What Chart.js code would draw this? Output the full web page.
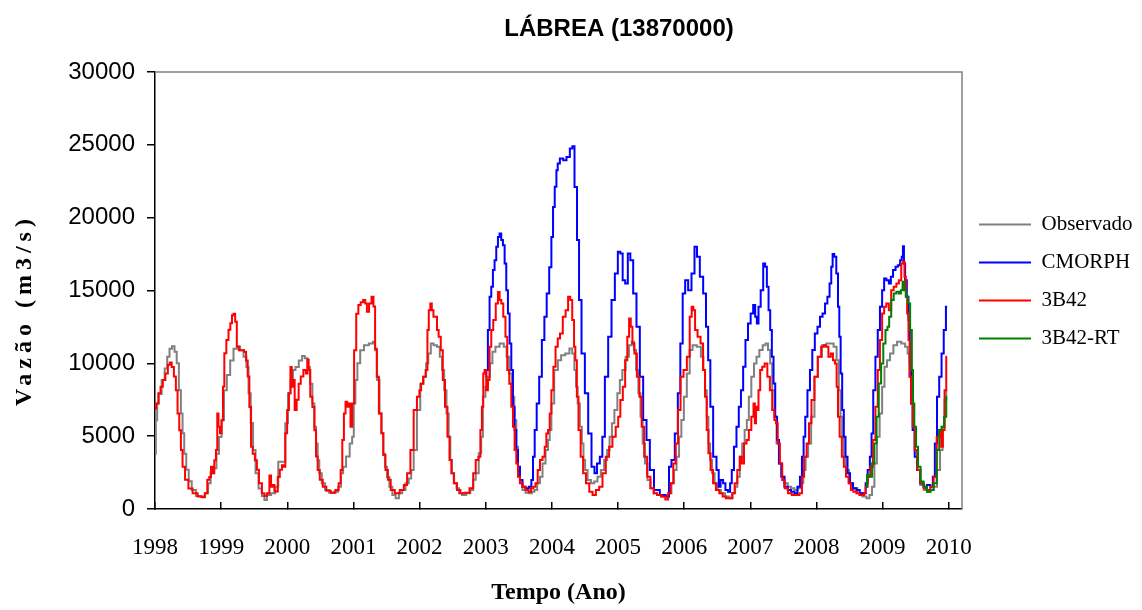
<!DOCTYPE html>
<html>
<head>
<meta charset="utf-8">
<script src="https://cdn.jsdelivr.net/npm/chart.js@4/dist/chart.umd.min.js"></script>
<style>
  html, body { margin: 0; padding: 0; background: #fff; }
  #wrap { width: 1142px; height: 610px; }
</style>
</head>
<body>
<div id="wrap"><canvas id="grafico" width="1142" height="610"></canvas></div>
<script>
// Vazão diária (m3/s) em Lábrea, estação 13870000 — pares [ano decimal, vazão]
const observado = [
  [1998.000,3800],[1998.025,6100],[1998.040,7250],[1998.076,7900],[1998.126,8850],[1998.167,9650],[1998.202,10450],[1998.237,11000],[1998.278,11180],[1998.313,10800],[1998.343,10000],[1998.379,8150],[1998.404,6550],[1998.429,5200],[1998.455,3800],[1998.490,2700],[1998.530,1900],[1998.581,1300],[1998.657,900],[1998.732,850],[1998.783,1075],[1998.823,1760],[1998.859,2450],[1998.909,2800],[1998.949,3800],[1998.985,4950],
  [1999.025,6100],[1999.061,8150],[1999.111,9200],[1999.162,10200],[1999.212,11000],[1999.263,11150],[1999.313,10900],[1999.364,10450],[1999.399,9750],[1999.429,7950],[1999.465,5900],[1999.500,4050],[1999.540,2450],[1999.591,1400],[1999.641,900],[1999.667,620],[1999.717,960],[1999.793,1075],[1999.843,1530],[1999.884,3250],[1999.944,3250],[1999.995,5880],
  [2000.025,7950],[2000.074,8850],[2000.099,9550],[2000.149,9750],[2000.199,10200],[2000.248,10500],[2000.283,10350],[2000.323,9750],[2000.362,8600],[2000.397,7250],[2000.422,5650],[2000.447,4500],[2000.471,3350],[2000.496,2450],[2000.546,1760],[2000.596,1300],[2000.670,1120],[2000.744,1190],[2000.794,1530],[2000.829,2450],[2000.859,2900],[2000.918,3600],[2000.968,4500],[2000.993,4960],
  [2001.017,7250],[2001.042,8850],[2001.077,10000],[2001.127,10900],[2001.191,11250],[2001.275,11370],[2001.315,11480],[2001.340,10900],[2001.375,8850],[2001.414,6550],[2001.439,5200],[2001.464,3800],[2001.489,2900],[2001.524,2200],[2001.563,1530],[2001.613,960],[2001.663,730],[2001.712,1075],[2001.762,1300],[2001.811,1760],[2001.861,2100],[2001.886,2680],[2001.935,4050],[2001.985,6800],
  [2002.035,8600],[2002.086,9080],[2002.111,10000],[2002.152,10680],[2002.187,11370],[2002.237,11250],[2002.288,11140],[2002.323,10450],[2002.354,9540],[2002.389,8160],[2002.424,6560],[2002.455,4960],[2002.475,3360],[2002.505,2450],[2002.540,1760],[2002.576,1420],[2002.616,1075],[2002.667,960],[2002.742,1075],[2002.793,1300],[2002.828,2000],[2002.869,2450],[2002.919,3820],[2002.944,4960],[2002.970,7700],
  [2003.020,8400],[2003.045,9080],[2003.081,10000],[2003.121,10800],[2003.172,11140],[2003.247,11370],[2003.298,11140],[2003.333,10450],[2003.374,9300],[2003.414,7700],[2003.449,6100],[2003.475,4280],[2003.500,2680],[2003.535,1760],[2003.576,1300],[2003.626,1120],[2003.677,1075],[2003.717,1190],[2003.753,1300],[2003.803,1760],[2003.838,2220],[2003.879,3130],[2003.929,4050],[2003.955,4730],[2003.980,5420],
  [2004.005,7250],[2004.065,9540],[2004.115,10220],[2004.165,10560],[2004.240,10680],[2004.290,11020],[2004.325,10680],[2004.355,9540],[2004.375,8390],[2004.405,7250],[2004.440,5650],[2004.465,4500],[2004.490,3360],[2004.515,2680],[2004.565,1990],[2004.615,1760],[2004.665,1880],[2004.715,2220],[2004.765,2680],[2004.815,3360],[2004.855,4050],[2004.890,4960],[2004.925,5880],[2004.965,6790],
  [2005.015,7940],[2005.040,8850],[2005.090,9540],[2005.140,10450],[2005.190,11250],[2005.225,11480],[2005.255,10910],[2005.290,9540],[2005.325,7940],[2005.355,6340],[2005.390,4500],[2005.425,3130],[2005.465,1990],[2005.515,1420],[2005.565,1075],[2005.615,960],[2005.690,850],[2005.740,850],[2005.790,1075],[2005.825,1760],[2005.865,2680],[2005.905,3590],[2005.940,4960],[2005.975,6110],
  [2006.015,7700],[2006.065,9310],[2006.101,10910],[2006.152,11250],[2006.227,11140],[2006.278,10450],[2006.303,9540],[2006.328,8160],[2006.354,6340],[2006.379,4500],[2006.404,3360],[2006.439,2450],[2006.480,1760],[2006.530,1300],[2006.581,1075],[2006.657,850],[2006.707,730],[2006.758,1075],[2006.783,1530],[2006.823,2220],[2006.859,3590],[2006.894,4500],[2006.934,5420],[2006.960,6110],[2006.995,7710],
  [2007.035,9080],[2007.076,9990],[2007.111,10450],[2007.162,10910],[2007.212,11250],[2007.247,11370],[2007.288,10910],[2007.313,9990],[2007.348,8160],[2007.379,6340],[2007.414,4500],[2007.449,3130],[2007.490,2220],[2007.540,1760],[2007.591,1530],[2007.641,1420],[2007.692,1300],[2007.742,1420],[2007.783,1760],[2007.818,2680],[2007.854,3590],[2007.894,4500],[2007.944,6340],[2007.995,9080],
  [2008.045,10450],[2008.122,11250],[2008.173,11370],[2008.234,11370],[2008.284,11140],[2008.325,10220],[2008.350,8160],[2008.376,6340],[2008.401,4960],[2008.426,3590],[2008.467,2680],[2008.518,1760],[2008.579,1420],[2008.655,1075],[2008.731,850],[2008.782,730],[2008.822,960],[2008.858,1530],[2008.893,3130],[2008.934,4960],[2008.975,6560],
  [2009.010,8390],[2009.046,9770],[2009.086,10220],[2009.137,10680],[2009.188,11250],[2009.249,11480],[2009.315,11370],[2009.365,11140],[2009.391,10680],[2009.416,9080],[2009.442,7250],[2009.472,5420],[2009.503,4050],[2009.543,2680],[2009.594,1650],[2009.655,1300],[2009.706,1190],[2009.746,1300],[2009.797,1530],[2009.848,2680],[2009.888,4050],[2009.924,5650],[2009.949,7480],[2009.975,8160]
];

const cmorph = [
  [2002.995,9080],[2003.020,9540],[2003.045,12280],[2003.071,14570],[2003.096,15250],[2003.121,16400],[2003.146,17080],[2003.172,18000],[2003.197,18680],[2003.222,18910],[2003.247,18460],[2003.273,18110],[2003.298,16860],[2003.323,15020],[2003.348,13420],[2003.374,11370],[2003.399,9540],[2003.424,7020],[2003.449,5420],[2003.475,4050],[2003.500,2900],[2003.535,1990],[2003.576,1530],[2003.626,1420],[2003.677,1530],[2003.702,1990],[2003.727,3590],[2003.753,5420],[2003.788,7250],[2003.828,9080],[2003.869,11600],[2003.904,13200],[2003.939,14800],[2003.980,16600],
  [2004.005,18680],[2004.030,20740],[2004.056,22120],[2004.081,23260],[2004.095,23720],[2004.146,24060],[2004.196,23950],[2004.246,24170],[2004.297,24750],[2004.322,24900],[2004.362,22100],[2004.398,18460],[2004.423,14340],[2004.473,10680],[2004.524,7940],[2004.574,5190],[2004.624,2900],[2004.665,2450],[2004.700,3130],[2004.750,3590],[2004.776,4960],[2004.826,9080],[2004.876,11820],[2004.927,14340],[2004.977,16170],
  [2005.017,17660],[2005.052,17540],[2005.088,15710],[2005.128,15480],[2005.168,17540],[2005.204,17080],[2005.254,14800],[2005.304,12510],[2005.355,9080],[2005.405,6110],[2005.456,4730],[2005.506,2680],[2005.581,1300],[2005.682,960],[2005.758,850],[2005.783,2900],[2005.833,3360],[2005.884,5190],[2005.924,7940],[2005.960,11370],[2005.995,14800],
  [2006.035,15710],[2006.085,15020],[2006.136,16170],[2006.176,18000],[2006.211,17310],[2006.262,15940],[2006.312,14800],[2006.347,12510],[2006.378,10220],[2006.413,7020],[2006.463,3590],[2006.514,2680],[2006.530,1530],[2006.571,1990],[2006.606,1760],[2006.641,1300],[2006.682,1190],[2006.707,1760],[2006.732,2680],[2006.773,4280],[2006.808,5650],[2006.843,7020],[2006.874,8160],[2006.909,9770],[2006.944,11600],[2006.985,12740],
  [2007.025,13420],[2007.061,14000],[2007.086,13200],[2007.111,12740],[2007.136,13880],[2007.177,15020],[2007.212,16860],[2007.237,16630],[2007.263,15250],[2007.288,13650],[2007.313,12280],[2007.338,10450],[2007.364,8620],[2007.389,6340],[2007.419,4730],[2007.449,3130],[2007.490,2220],[2007.540,1530],[2007.591,1300],[2007.641,1190],[2007.692,1075],[2007.732,1530],[2007.768,2220],[2007.793,3590],[2007.818,4960],[2007.843,6340],[2007.884,8160],[2007.919,9540],[2007.955,10910],[2007.995,12050],
  [2008.035,12510],[2008.071,13200],[2008.112,13420],[2008.147,14110],[2008.183,14570],[2008.213,15480],[2008.234,16630],[2008.254,17500],[2008.284,17310],[2008.315,16170],[2008.335,13880],[2008.355,11820],[2008.376,9310],[2008.401,6790],[2008.426,4960],[2008.452,3590],[2008.487,2450],[2008.528,1760],[2008.579,1420],[2008.629,1300],[2008.680,1075],[2008.731,1075],[2008.756,1760],[2008.792,2680],[2008.822,3590],[2008.843,5190],[2008.873,8160],[2008.909,10450],[2008.944,12280],[2008.975,13880],
  [2009.010,15020],[2009.036,15830],[2009.076,15710],[2009.112,15480],[2009.137,15940],[2009.178,16400],[2009.213,16630],[2009.249,16740],[2009.279,17080],[2009.299,17310],[2009.315,18040],[2009.330,16860],[2009.350,15710],[2009.381,14570],[2009.401,12970],[2009.421,9990],[2009.442,7250],[2009.467,5420],[2009.503,3590],[2009.543,2680],[2009.594,1760],[2009.645,1530],[2009.695,1650],[2009.746,1530],[2009.772,2220],[2009.807,4500],[2009.838,7710],[2009.873,9080],[2009.909,10680],[2009.939,12280],[2009.975,13880]
];

const trmm3b42 = [
  [1998.000,6900],[1998.035,7250],[1998.066,7950],[1998.101,8400],[1998.136,8850],[1998.177,9300],[1998.212,9900],[1998.237,10050],[1998.268,9750],[1998.303,9100],[1998.328,8150],[1998.354,6550],[1998.379,5400],[1998.404,4050],[1998.429,2900],[1998.480,2000],[1998.530,1400],[1998.606,1075],[1998.682,850],[1998.732,800],[1998.773,1075],[1998.808,2000],[1998.833,2200],[1998.859,2900],[1998.884,2450],[1998.909,3350],[1998.934,4050],[1998.949,6550],[1998.970,5650],[1998.995,5200],
  [1999.020,6100],[1999.035,8400],[1999.061,10700],[1999.096,11600],[1999.126,12300],[1999.152,12750],[1999.177,13300],[1999.197,13400],[1999.227,12850],[1999.247,11150],[1999.288,10900],[1999.328,10900],[1999.364,10800],[1999.389,10200],[1999.414,9100],[1999.439,7000],[1999.465,4280],[1999.490,3800],[1999.530,3350],[1999.551,2700],[1999.591,1760],[1999.641,1075],[1999.667,900],[1999.717,1075],[1999.742,2300],[1999.768,1530],[1999.793,1650],[1999.818,1200],[1999.843,1200],[1999.869,2200],[1999.904,2700],[1999.934,3000],[1999.960,2900],[1999.980,5200],
  [2000.015,6800],[2000.035,7950],[2000.060,9750],[2000.074,8400],[2000.099,8850],[2000.124,6800],[2000.159,7500],[2000.184,8600],[2000.223,9100],[2000.263,9550],[2000.298,9300],[2000.313,10270],[2000.333,9550],[2000.362,7700],[2000.397,7000],[2000.422,5400],[2000.447,3600],[2000.471,2680],[2000.511,2000],[2000.561,1530],[2000.620,1260],[2000.695,1120],[2000.759,1300],[2000.794,1760],[2000.819,2680],[2000.844,4730],[2000.868,6550],[2000.893,7360],[2000.918,7020],[2000.943,7250],[2000.968,5650],[2000.993,7250],
  [2001.027,10900],[2001.057,13400],[2001.092,14000],[2001.127,14200],[2001.166,14340],[2001.191,14100],[2001.216,13540],[2001.256,14100],[2001.290,14570],[2001.315,13900],[2001.340,11000],[2001.365,9080],[2001.404,6550],[2001.439,5200],[2001.464,3700],[2001.504,2680],[2001.538,2000],[2001.588,1300],[2001.663,1075],[2001.737,1300],[2001.787,1650],[2001.836,2450],[2001.886,4050],[2001.935,6800],[2001.985,7700],
  [2002.010,8160],[2002.035,8600],[2002.071,9080],[2002.111,9540],[2002.126,12280],[2002.152,13650],[2002.172,14100],[2002.197,13650],[2002.222,13200],[2002.253,13200],[2002.273,12280],[2002.303,11820],[2002.338,10900],[2002.364,8850],[2002.404,7020],[2002.439,4960],[2002.465,3360],[2002.495,2450],[2002.540,1760],[2002.591,1300],[2002.641,1075],[2002.717,1120],[2002.793,1420],[2002.828,2450],[2002.869,3360],[2002.909,3590],[2002.929,5420],[2002.955,7020],[2002.970,9300],[2002.995,9540],
  [2003.020,8160],[2003.045,8850],[2003.071,11140],[2003.096,12280],[2003.131,12970],[2003.172,14100],[2003.197,14900],[2003.222,14340],[2003.247,14100],[2003.283,13200],[2003.313,11820],[2003.338,9540],[2003.374,8600],[2003.399,7020],[2003.424,5650],[2003.449,4050],[2003.475,3130],[2003.500,2220],[2003.535,1760],[2003.576,1530],[2003.626,1300],[2003.667,1190],[2003.702,1420],[2003.737,1530],[2003.768,1760],[2003.803,2680],[2003.838,3360],[2003.879,3590],[2003.904,4280],[2003.929,5190],[2003.955,5420],[2003.980,6560],
  [2004.005,8160],[2004.040,9770],[2004.071,11140],[2004.106,11700],[2004.140,12050],[2004.190,13200],[2004.225,13650],[2004.265,14570],[2004.290,14340],[2004.325,12970],[2004.345,11140],[2004.365,10220],[2004.390,7700],[2004.415,5420],[2004.455,3590],[2004.490,2450],[2004.540,1760],[2004.590,1190],[2004.640,960],[2004.690,1300],[2004.740,1530],[2004.790,2450],[2004.840,3590],[2004.890,4280],[2004.940,4960],[2004.990,5650],
  [2005.015,6340],[2005.055,7480],[2005.090,8390],[2005.125,10220],[2005.155,11820],[2005.180,13080],[2005.205,12510],[2005.230,11370],[2005.265,10680],[2005.305,9080],[2005.340,7700],[2005.375,5650],[2005.415,3590],[2005.465,2220],[2005.515,1420],[2005.565,1075],[2005.615,960],[2005.690,850],[2005.740,660],[2005.775,1075],[2005.815,1760],[2005.855,3130],[2005.890,4500],[2005.925,6790],[2005.965,9080],
  [2006.015,9540],[2006.066,10450],[2006.101,13200],[2006.126,13880],[2006.152,13650],[2006.177,12280],[2006.227,11820],[2006.268,11370],[2006.303,9540],[2006.328,7710],[2006.354,5420],[2006.379,3820],[2006.419,2680],[2006.455,1760],[2006.505,1300],[2006.556,1075],[2006.606,850],[2006.657,730],[2006.707,730],[2006.743,1075],[2006.783,1760],[2006.823,2680],[2006.859,3590],[2006.884,3130],[2006.924,4500],[2006.960,4730],[2006.995,5420],
  [2007.035,6340],[2007.061,7250],[2007.076,5880],[2007.096,7020],[2007.111,6790],[2007.136,8160],[2007.162,9540],[2007.197,9770],[2007.237,9990],[2007.278,9080],[2007.313,8160],[2007.348,6790],[2007.379,6110],[2007.399,5880],[2007.429,4500],[2007.465,3130],[2007.500,1990],[2007.540,1420],[2007.601,1075],[2007.652,960],[2007.717,960],[2007.768,1075],[2007.793,2220],[2007.833,3590],[2007.869,4500],[2007.904,5880],[2007.944,7480],[2007.995,9080],
  [2008.045,10450],[2008.096,11140],[2008.122,11250],[2008.162,11140],[2008.198,10450],[2008.234,10680],[2008.264,10220],[2008.294,9990],[2008.315,8390],[2008.335,6340],[2008.366,4960],[2008.401,3590],[2008.426,2900],[2008.467,2220],[2008.503,1760],[2008.538,1300],[2008.579,1190],[2008.629,1075],[2008.670,960],[2008.706,960],[2008.731,1075],[2008.756,1530],[2008.792,2220],[2008.832,2900],[2008.873,4730],[2008.909,7020],[2008.944,9540],[2008.975,11600],
  [2009.010,13420],[2009.036,13880],[2009.076,14110],[2009.112,13650],[2009.147,15020],[2009.188,15250],[2009.228,15480],[2009.264,15710],[2009.299,16860],[2009.320,16970],[2009.340,15940],[2009.360,14570],[2009.381,13420],[2009.401,11600],[2009.421,9080],[2009.442,7250],[2009.467,5650],[2009.503,4050],[2009.543,2680],[2009.594,1760],[2009.645,1420],[2009.695,1300],[2009.746,1530],[2009.797,2220],[2009.838,4960],[2009.873,5420],[2009.898,4280],[2009.924,5420],[2009.949,8160],[2009.975,10450]
];

const trmm3b42rt = [
  [2008.746,1530],[2008.782,2330],[2008.822,2220],[2008.858,3130],[2008.893,4500],[2008.924,6340],[2008.959,8620],[2008.995,9990],
  [2009.025,11370],[2009.061,12280],[2009.086,12510],[2009.112,13200],[2009.147,14340],[2009.188,14800],[2009.228,14910],[2009.264,14800],[2009.289,15020],[2009.315,15600],[2009.340,15020],[2009.365,14570],[2009.401,14110],[2009.431,12280],[2009.452,9540],[2009.467,7250],[2009.492,5650],[2009.518,4280],[2009.553,2900],[2009.594,1880],[2009.645,1530],[2009.695,1190],[2009.746,1300],[2009.797,1760],[2009.838,4050],[2009.873,5420],[2009.909,5650],[2009.949,6340],[2009.975,7710]
];

const nomesSeries = ['Observado', 'CMORPH', '3B42', '3B42-RT'];
const anoInicial = 1998, anoFinal = 2010;
const vazaoMax = 30000, vazaoPasso = 5000;
const tituloEixoY = 'Vazão (m3/s)';

const SERIF = '"Liberation Serif", "Times New Roman", Times, serif';
const SANS = '"Liberation Sans", Arial, Helvetica, sans-serif';

const pontos = (serie) => serie.map(([x, y]) => ({ x, y }));

// gray frame on the top and right edges of the plot area
const molduraGrafico = {
  id: 'molduraGrafico',
  beforeDatasetsDraw(chart) {
    const { ctx, chartArea: a } = chart;
    ctx.save();
    ctx.strokeStyle = '#808080';
    ctx.lineWidth = 1.5;
    ctx.beginPath();
    ctx.moveTo(a.left, a.top);
    ctx.lineTo(a.right, a.top);
    ctx.lineTo(a.right, a.bottom);
    ctx.stroke();
    ctx.restore();
  }
};

// shift the title to the right and lift the legend slightly
const ajusteCaixas = {
  id: 'ajusteCaixas',
  afterLayout(chart) {
    const t = chart.titleBlock;
    if (t) { t.left += 48; t.right += 48; }
    const lg = chart.legend;
    if (lg) { lg.top -= 9; lg.bottom -= 9; }
  }
};

// rotated, letter-spaced title of the flow axis
const tituloVertical = {
  id: 'tituloVertical',
  afterDraw(chart) {
    const { ctx, chartArea: a } = chart;
    ctx.save();
    ctx.translate(25, (a.top + a.bottom) / 2 + 22);
    ctx.rotate(-Math.PI / 2);
    ctx.font = 'bold 24px ' + SERIF;
    ctx.fillStyle = '#000';
    ctx.textAlign = 'center';
    ctx.textBaseline = 'middle';
    if ('letterSpacing' in ctx) ctx.letterSpacing = '5px';
    ctx.fillText(tituloEixoY, 2.5, 0);
    ctx.restore();
  }
};

const estiloLinha = (cor, ordem) => ({
  borderColor: cor,
  backgroundColor: cor,
  borderWidth: 2,
  pointRadius: 0,
  pointHoverRadius: 0,
  stepped: 'middle',
  fill: false,
  order: ordem
});

new Chart(document.getElementById('grafico'), {
  type: 'line',
  data: {
    datasets: [
      { label: nomesSeries[0], data: pontos(observado), ...estiloLinha('#808080', 4) },
      { label: nomesSeries[1], data: pontos(cmorph), ...estiloLinha('#0000FF', 3) },
      { label: nomesSeries[2], data: pontos(trmm3b42), ...estiloLinha('#FF0000', 2) },
      { label: nomesSeries[3], data: pontos(trmm3b42rt), ...estiloLinha('#008000', 1) }
    ]
  },
  options: {
    responsive: false,
    animation: false,
    devicePixelRatio: 1,
    layout: { padding: 0 },
    plugins: {
      tooltip: { enabled: false },
      title: {
        display: true,
        text: 'LÁBREA (13870000)',
        color: '#000',
        font: { family: SANS, size: 24, weight: 'bold' },
        padding: { top: 14.6, bottom: 28.6 }
      },
      legend: {
        position: 'right',
        align: 'center',
        fullSize: false,
        maxWidth: 180,
        labels: {
          usePointStyle: true,
          pointStyle: 'line',
          pointStyleWidth: 52,
          padding: 17,
          color: '#000',
          font: { family: SERIF, size: 21 },
          sort: (a, b) => a.datasetIndex - b.datasetIndex
        }
      }
    },
    scales: {
      x: {
        type: 'linear',
        position: 'bottom',
        min: anoInicial,
        max: anoFinal + 0.2,
        afterFit: (s) => { s.height = 101; },
        ticks: {
          stepSize: 1,
          includeBounds: false,
          autoSkip: false,
          maxRotation: 0,
          padding: 32,
          color: '#000',
          font: { family: SERIF, size: 23 },
          callback: (v) => String(Math.round(v))
        },
        grid: { drawOnChartArea: false, drawTicks: true, tickLength: -7, color: '#000', lineWidth: 1.5 },
        border: { color: '#000', width: 1.5 },
        title: {
          display: true,
          text: 'Tempo (Ano)',
          color: '#000',
          font: { family: SERIF, size: 24, weight: 'bold' },
          padding: { top: 0, bottom: 2.6 }
        }
      },
      y: {
        type: 'linear',
        min: 0,
        max: vazaoMax,
        afterFit: (s) => { s.width = 155; },
        ticks: {
          stepSize: vazaoPasso,
          padding: 12,
          color: '#000',
          font: { family: SANS, size: 24 },
          callback: (v) => String(v)
        },
        grid: { drawOnChartArea: false, drawTicks: true, tickLength: 8, color: '#000', lineWidth: 1.5 },
        border: { color: '#000', width: 1.5 },
        title: { display: false }
      }
    }
  },
  plugins: [molduraGrafico, ajusteCaixas, tituloVertical]
});
</script>
</body>
</html>
